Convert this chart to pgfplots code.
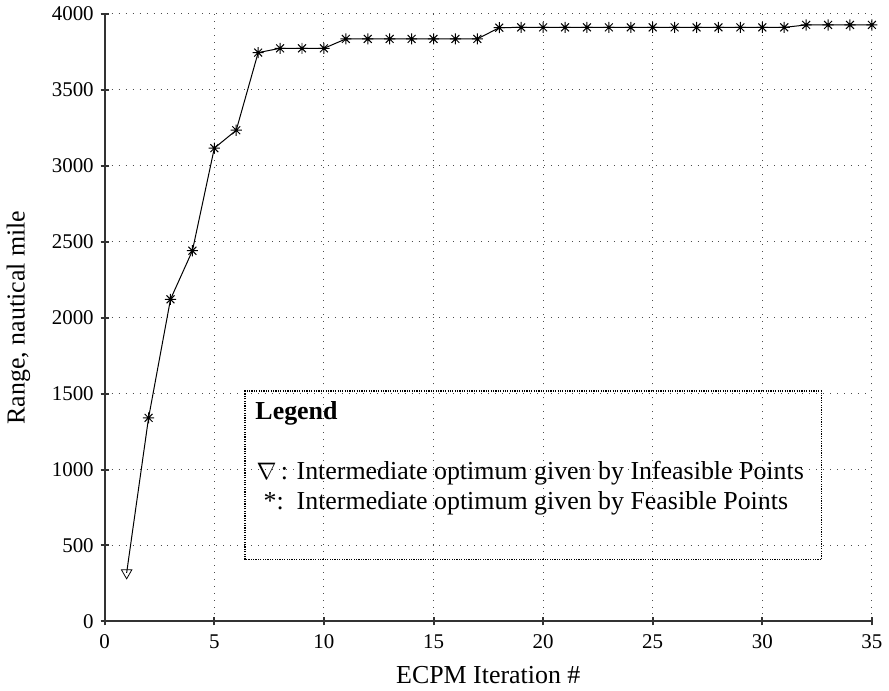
\documentclass[border=0pt]{standalone}
\usepackage{fontspec}
\setmainfont{Liberation Serif}
\usepackage{pgfplots}
\usepackage{pgfplotstable}
\pgfplotsset{compat=1.18}

% matlab style '*' marker: a plus and a cross on top of each other
\pgfdeclareplotmark{mstar}{%
  \pgfpathmoveto{\pgfqpoint{-\pgfplotmarksize}{0pt}}%
  \pgfpathlineto{\pgfqpoint{\pgfplotmarksize}{0pt}}%
  \pgfpathmoveto{\pgfqpoint{0pt}{-\pgfplotmarksize}}%
  \pgfpathlineto{\pgfqpoint{0pt}{\pgfplotmarksize}}%
  \pgfpathmoveto{\pgfqpoint{-0.707\pgfplotmarksize}{-0.707\pgfplotmarksize}}%
  \pgfpathlineto{\pgfqpoint{0.707\pgfplotmarksize}{0.707\pgfplotmarksize}}%
  \pgfpathmoveto{\pgfqpoint{-0.707\pgfplotmarksize}{0.707\pgfplotmarksize}}%
  \pgfpathlineto{\pgfqpoint{0.707\pgfplotmarksize}{-0.707\pgfplotmarksize}}%
  \pgfusepathqstroke}

\pgfplotstableread{
it range
1  320
2  1340
3  2120
4  2440
5  3115
6  3233
7  3744
8  3772
9  3772
10 3772
11 3834
12 3834
13 3834
14 3834
15 3834
16 3834
17 3834
18 3908
19 3910
20 3910
21 3910
22 3910
23 3910
24 3910
25 3910
26 3910
27 3910
28 3910
29 3910
30 3910
31 3910
32 3926
33 3926
34 3926
35 3926
}\rangedata

\begin{document}
\begin{tikzpicture}
\begin{axis}[
  width=385pt, height=305pt, scale only axis,
  xmin=0, xmax=35, ymin=0, ymax=4000,
  xtick={0,5,...,35}, ytick={0,500,...,4000},
  axis x line=bottom, axis y line=left,
  axis line style={-, line width=1pt, black!80},
  tick style={line width=1pt, black!80},
  major tick length=4pt,
  grid=major,
  grid style={black!70, line width=0.5pt, dash pattern=on 0.5pt off 3pt},
  /pgf/number format/assume math mode=true,
  /pgf/number format/1000 sep={},
  tick label style={font=\fontsize{10.5}{12}\selectfont},
  xticklabel style={yshift=-1pt},
  label style={font=\fontsize{13}{15}\selectfont},
  xlabel={ECPM Iteration \#},
  ylabel={Range, nautical mile},
  xlabel style={yshift=-2pt},
  ylabel style={yshift=4pt},
  clip=false,
]
\addplot[black, line width=0.5pt, no marks] table[x=it, y=range] {\rangedata};
\addplot[only marks, mark=mstar, mark size=2.8pt, mark options={black, line width=0.5pt},
  skip coords between index={0}{1}] table[x=it, y=range] {\rangedata};
\addplot[only marks, mark=triangle, mark size=3pt,
  mark options={black, fill=white, rotate=180, line width=0.4pt},
  skip coords between index={1}{35}] table[x=it, y=range] {\rangedata};

\draw[black, line width=0.8pt, dash pattern=on 0.6pt off 0.6pt]
  (axis cs:6.41,407) rectangle (axis cs:32.7,1515);
\node[anchor=west, inner sep=0pt, font=\fontsize{13}{15}\selectfont\bfseries]
  at (axis cs:6.86,1370) {Legend};
\node[anchor=west, inner sep=0pt, font=\fontsize{13}{15}\selectfont]
  at (axis cs:6.91,977) {$\nabla$\,: Intermediate optimum given by Infeasible Points};
\node[anchor=west, inner sep=0pt, font=\fontsize{13}{15}\selectfont]
  at (axis cs:7.23,780) {*:\ \ Intermediate optimum given by Feasible Points};
\end{axis}
\end{tikzpicture}
\end{document}
